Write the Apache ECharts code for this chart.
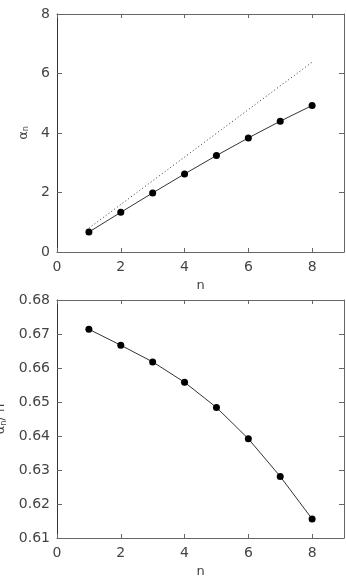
<!DOCTYPE html>
<html>
<head>
<meta charset="utf-8">
<script src="https://cdn.jsdelivr.net/npm/echarts@6/dist/echarts.min.js"></script>
<style>
  html, body { margin: 0; padding: 0; background: #fff; }
  #chart { width: 346px; height: 577px; }
</style>
</head>
<body>
<div id="chart"></div>
<script>
// n values
var nVals = [1, 2, 3, 4, 5, 6, 7, 8];
// alpha_n (top panel)
var alphaN = [0.671, 1.333, 1.986, 2.624, 3.242, 3.835, 4.397, 4.925];
// dotted reference line (top panel), endpoints only
var refLine = [[1, 0.80], [8, 6.38]];
// alpha_n / n (bottom panel)
var alphaRatio = [0.6714, 0.6667, 0.6618, 0.6558, 0.6484, 0.6392, 0.6281, 0.6156];

var xTicks = [0, 2, 4, 6, 8];

var font = 'DejaVu Sans';
var labelColor = '#444';
var lineColor = '#666';

function pairs(xs, ys) {
    var out = [];
    for (var i = 0; i < xs.length; i++) out.push([xs[i], ys[i]]);
    return out;
}

function xAxis(gi, pos, withLabel) {
    return {
        type: 'value', gridIndex: gi, position: pos,
        min: 0, max: 9, interval: 2,
        name: withLabel ? 'n' : '',
        nameLocation: 'middle', nameGap: 27,
        nameTextStyle: { fontFamily: font, fontSize: 13, color: labelColor },
        axisLine: { show: true, onZero: false, lineStyle: { color: lineColor, width: 1 } },
        axisTick: { show: true, inside: true, length: 4, lineStyle: { color: lineColor } },
        axisLabel: {
            show: withLabel, margin: 8,
            fontFamily: font, fontSize: 14, color: labelColor,
            formatter: function (v) { return xTicks.indexOf(v) >= 0 ? String(v) : ''; }
        },
        splitLine: { show: false }
    };
}

function yAxis(gi, pos, min, max, step, withLabel, name, gap) {
    return {
        type: 'value', gridIndex: gi, position: pos,
        min: min, max: max, interval: step,
        name: withLabel ? name : '',
        nameLocation: 'middle', nameRotate: 90, nameGap: gap,
        nameTextStyle: {
            fontFamily: font, fontSize: 13, color: labelColor,
            rich: {
                a: { fontFamily: font, fontSize: 13, color: labelColor },
                s: { fontFamily: font, fontSize: 8, color: labelColor, padding: [6, 0, 0, 0] }
            }
        },
        axisLine: { show: true, onZero: false, lineStyle: { color: pos === 'left' ? '#333' : lineColor, width: 1 } },
        axisTick: { show: true, inside: true, length: 5, lineStyle: { color: lineColor } },
        axisLabel: {
            show: withLabel, margin: 7,
            fontFamily: font, fontSize: 14, color: labelColor
        },
        splitLine: { show: false }
    };
}

var myChart = echarts.init(document.getElementById('chart'));

var option = {
    backgroundColor: '#fff',
    animation: false,
    grid: [
        { left: 57, top: 14, width: 287, height: 238, outerBoundsMode: 'none', containLabel: false },
        { left: 57, top: 300, width: 287, height: 238, outerBoundsMode: 'none', containLabel: false }
    ],
    xAxis: [
        xAxis(0, 'bottom', true),
        xAxis(0, 'top', false),
        xAxis(1, 'bottom', true),
        xAxis(1, 'top', false)
    ],
    yAxis: [
        yAxis(0, 'left', 0, 8, 2, true, '{a|α}{s|n}', 25),
        yAxis(0, 'right', 0, 8, 2, false, '', 0),
        yAxis(1, 'left', 0.61, 0.68, 0.01, true, '{a|α}{s|n}{a|/ n}', 38),
        yAxis(1, 'right', 0.61, 0.68, 0.01, false, '', 0)
    ],
    series: [
        {
            type: 'line', xAxisIndex: 0, yAxisIndex: 0,
            data: refLine, symbol: 'none',
            lineStyle: { color: '#333', width: 1, type: [1, 2.5] }
        },
        {
            type: 'line', xAxisIndex: 0, yAxisIndex: 0,
            data: pairs(nVals, alphaN),
            symbol: 'circle', symbolSize: 7,
            itemStyle: { color: '#000' },
            lineStyle: { color: '#333', width: 1 }
        },
        {
            type: 'line', xAxisIndex: 2, yAxisIndex: 2,
            data: pairs(nVals, alphaRatio),
            symbol: 'circle', symbolSize: 7,
            itemStyle: { color: '#000' },
            lineStyle: { color: '#333', width: 1 }
        }
    ]
};

myChart.setOption(option);
</script>
</body>
</html>
